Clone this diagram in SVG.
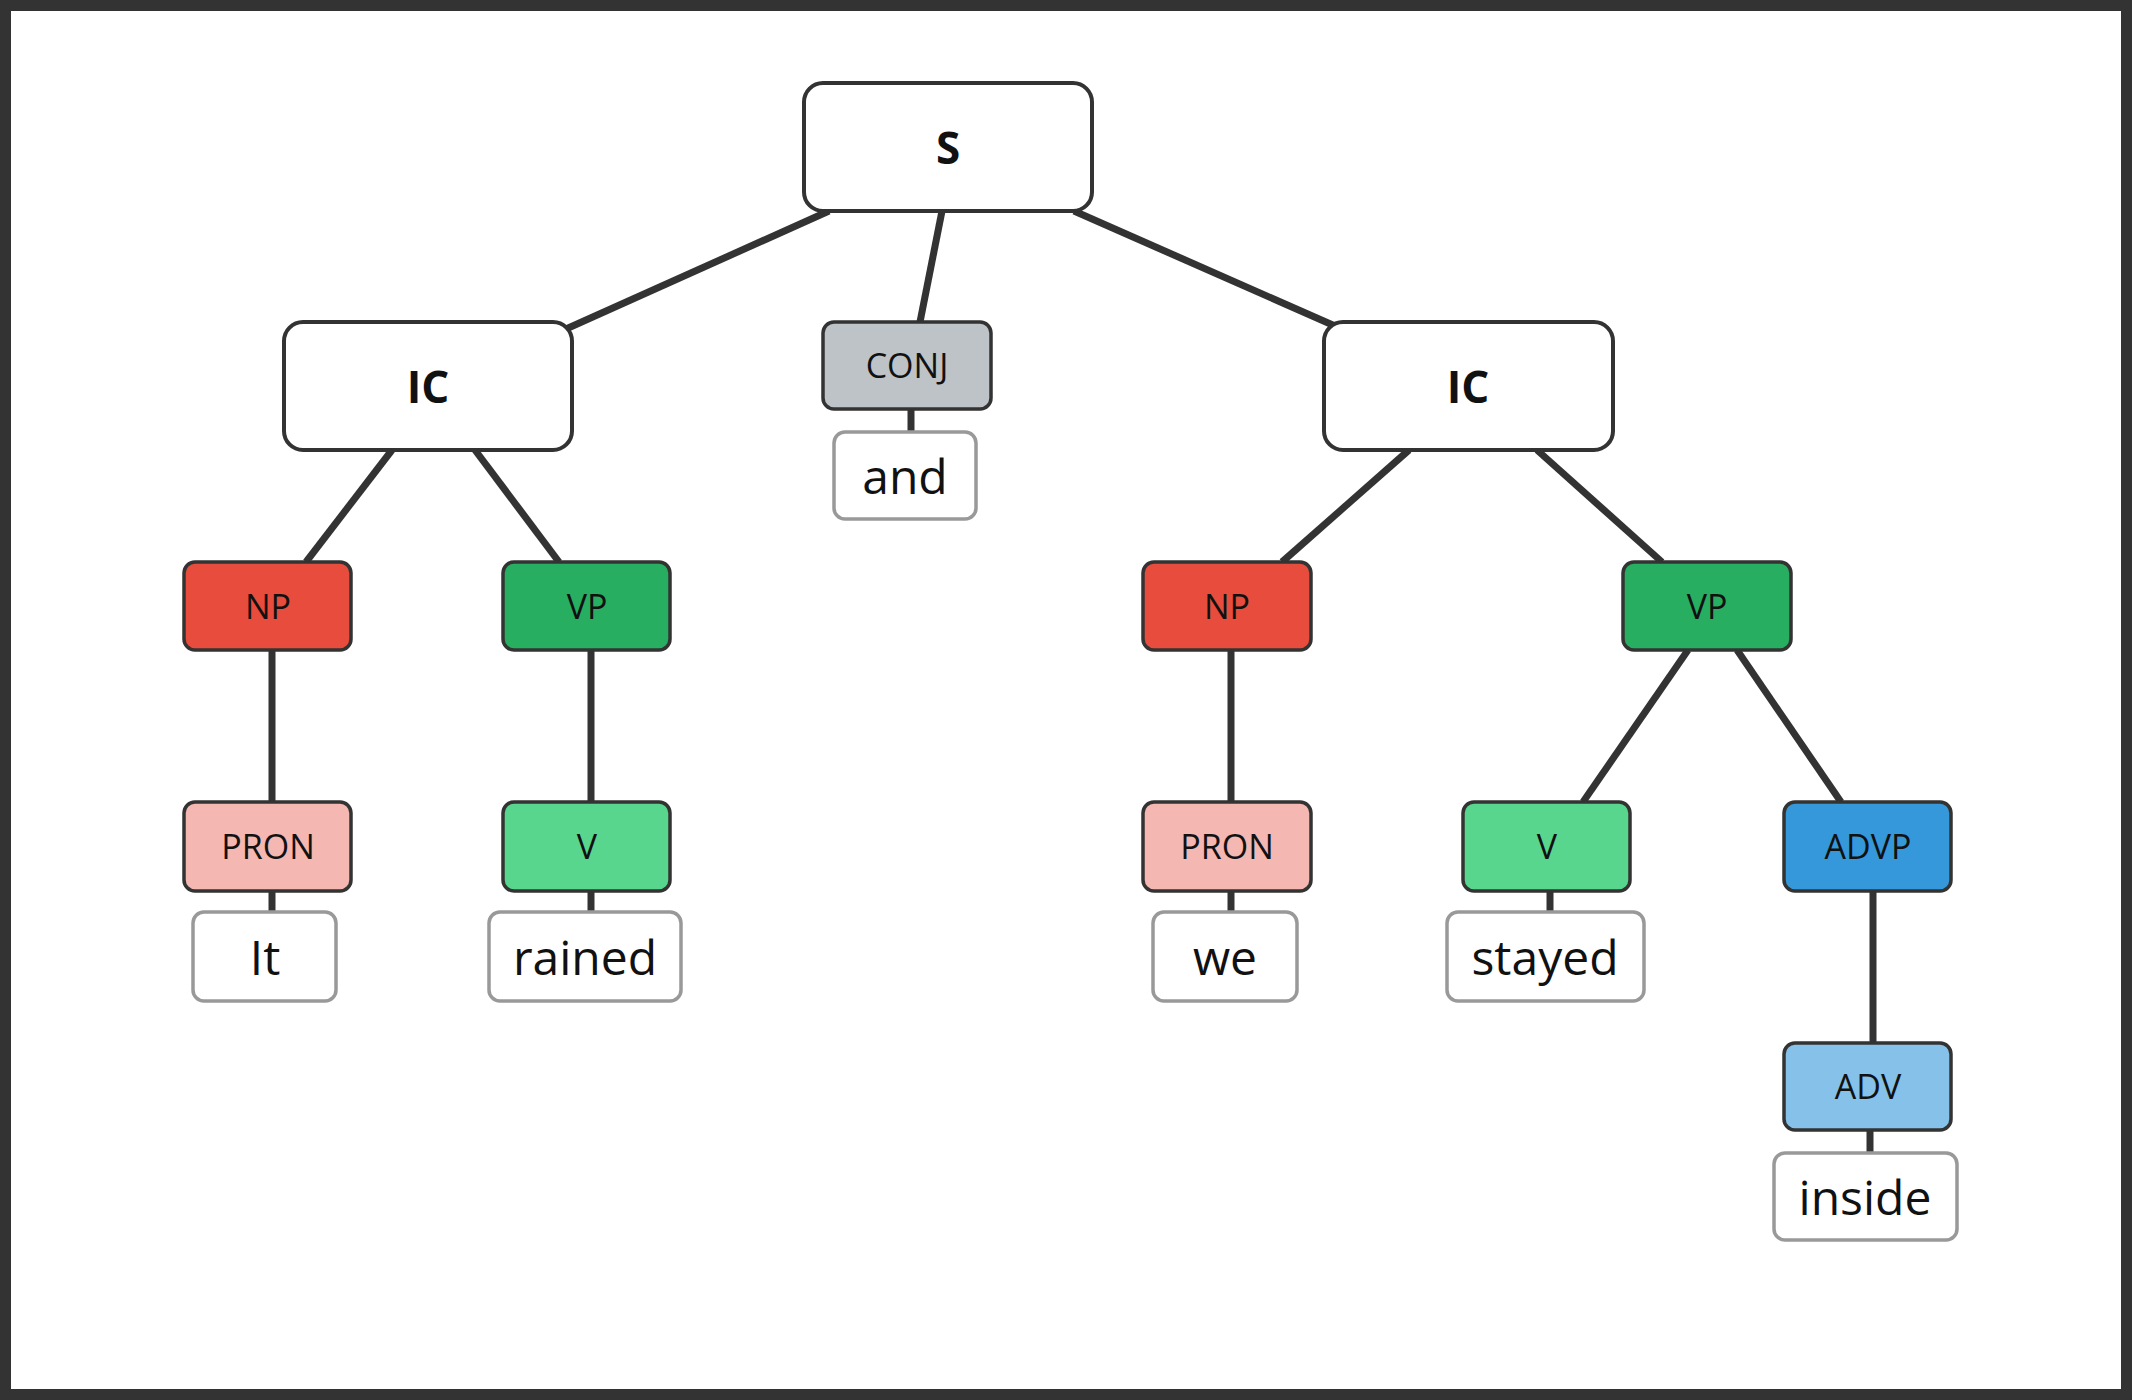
<svg xmlns="http://www.w3.org/2000/svg" width="2132" height="1400" viewBox="0 0 2132 1400">
<style>
.big{fill:#fff;stroke:#333;stroke-width:4}
.tag{stroke:#333;stroke-width:3.5}
.word{fill:#fff;stroke:#999;stroke-width:3.5}
.tb{font-family:"Open Sans","Liberation Sans",sans-serif;font-weight:bold;font-size:44px;fill:#111;text-anchor:middle;dominant-baseline:central}
.tt{font-family:"Open Sans","Liberation Sans",sans-serif;font-size:34px;fill:#111;text-anchor:middle;dominant-baseline:central}
.tw{font-family:"Open Sans","Liberation Sans",sans-serif;font-size:48px;fill:#111;text-anchor:middle;dominant-baseline:central}
#edges line{stroke:#333;stroke-width:7}
</style>
<rect x="0" y="0" width="2132" height="1400" fill="#fff"/>
<rect x="5.5" y="5.5" width="2121" height="1389" fill="none" stroke="#333" stroke-width="11"/>
<g id="edges">
<line x1="829" y1="211" x2="566" y2="329"/>
<line x1="942" y1="211" x2="920" y2="322"/>
<line x1="1074" y1="211" x2="1335" y2="326"/>
<line x1="392" y1="450" x2="306" y2="562"/>
<line x1="475" y1="450" x2="559" y2="562"/>
<line x1="272" y1="650" x2="272" y2="802"/>
<line x1="591" y1="650" x2="591" y2="802"/>
<line x1="272" y1="891" x2="272" y2="912"/>
<line x1="591" y1="891" x2="591" y2="912"/>
<line x1="911" y1="409" x2="911" y2="432"/>
<line x1="1409" y1="450" x2="1282" y2="562"/>
<line x1="1537" y1="450" x2="1662" y2="562"/>
<line x1="1231" y1="650" x2="1231" y2="802"/>
<line x1="1231" y1="891" x2="1231" y2="912"/>
<line x1="1688" y1="650" x2="1583" y2="802"/>
<line x1="1737" y1="650" x2="1841" y2="802"/>
<line x1="1550" y1="891" x2="1550" y2="912"/>
<line x1="1873" y1="891" x2="1873" y2="1043"/>
<line x1="1870" y1="1130" x2="1870" y2="1153"/>
</g>
<g id="S"><rect class="big" x="804" y="83" width="288" height="128" rx="19"/><text class="tb" x="948" y="147">S</text></g>
<g id="IC1"><rect class="big" x="284" y="322" width="288" height="128" rx="19"/><text class="tb" x="428" y="386">IC</text></g>
<g id="IC2"><rect class="big" x="1324" y="322" width="289" height="128" rx="19"/><text class="tb" x="1468" y="386">IC</text></g>
<g id="CONJ"><rect class="tag" fill="#bdc3c7" x="823" y="322" width="168" height="87" rx="11"/><text class="tt" x="907" y="365">CONJ</text></g>
<g id="and"><rect class="word" x="834" y="432" width="142" height="87" rx="11"/><text class="tw" x="905" y="475">and</text></g>
<g id="NP1"><rect class="tag" fill="#e74c3c" x="184" y="562" width="167" height="88" rx="11"/><text class="tt" x="268" y="606">NP</text></g>
<g id="VP1"><rect class="tag" fill="#27ae60" x="503" y="562" width="167" height="88" rx="11"/><text class="tt" x="587" y="606">VP</text></g>
<g id="PRON1"><rect class="tag" fill="#f5b7b1" x="184" y="802" width="167" height="89" rx="11"/><text class="tt" x="268" y="846">PRON</text></g>
<g id="It"><rect class="word" x="193" y="912" width="143" height="89" rx="11"/><text class="tw" x="265" y="956">It</text></g>
<g id="V1"><rect class="tag" fill="#58d68d" x="503" y="802" width="167" height="89" rx="11"/><text class="tt" x="587" y="846">V</text></g>
<g id="rained"><rect class="word" x="489" y="912" width="192" height="89" rx="11"/><text class="tw" x="585" y="956">rained</text></g>
<g id="NP2"><rect class="tag" fill="#e74c3c" x="1143" y="562" width="168" height="88" rx="11"/><text class="tt" x="1227" y="606">NP</text></g>
<g id="PRON2"><rect class="tag" fill="#f5b7b1" x="1143" y="802" width="168" height="89" rx="11"/><text class="tt" x="1227" y="846">PRON</text></g>
<g id="we"><rect class="word" x="1153" y="912" width="144" height="89" rx="11"/><text class="tw" x="1225" y="956">we</text></g>
<g id="VP2"><rect class="tag" fill="#27ae60" x="1623" y="562" width="168" height="88" rx="11"/><text class="tt" x="1707" y="606">VP</text></g>
<g id="V2"><rect class="tag" fill="#58d68d" x="1463" y="802" width="167" height="89" rx="11"/><text class="tt" x="1547" y="846">V</text></g>
<g id="stayed"><rect class="word" x="1447" y="912" width="197" height="89" rx="11"/><text class="tw" x="1545" y="956">stayed</text></g>
<g id="ADVP"><rect class="tag" fill="#3498db" x="1784" y="802" width="167" height="89" rx="11"/><text class="tt" x="1868" y="846">ADVP</text></g>
<g id="ADV"><rect class="tag" fill="#85c1e9" x="1784" y="1043" width="167" height="87" rx="11"/><text class="tt" x="1868" y="1086">ADV</text></g>
<g id="inside"><rect class="word" x="1774" y="1153" width="183" height="87" rx="11"/><text class="tw" x="1865" y="1196">inside</text></g>
</svg>
